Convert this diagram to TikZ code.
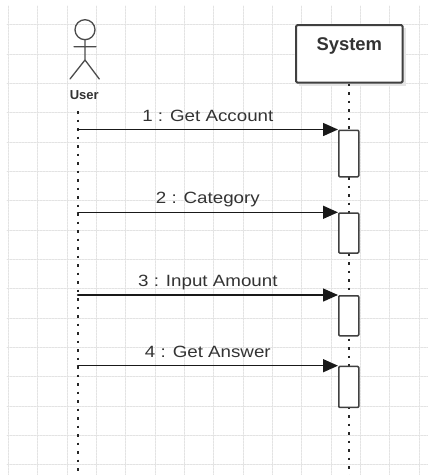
\documentclass[tikz,border=0pt]{standalone}
\usepackage{fontspec}
\setmainfont{Liberation Sans}
\newfontfamily\msgfont{Liberation Sans}[FakeStretch=1.15]
\usetikzlibrary{positioning,arrows.meta}
\begin{document}
\begin{tikzpicture}[x=1pt, y=-1pt, line join=round, line cap=round]
	\tikzset{every node/.style={text=black!80}}
	\tikzset{grid/.style={black!11, line width=0.8pt, dash pattern=on 2pt off 1pt}}
	\tikzset{life/.style={black!85, line width=2pt, line cap=butt, dash pattern=on 2.5pt off 6pt}}
	\tikzset{act/.style={draw=black!75, fill=white, line width=1.5pt, minimum width=20pt, anchor=north west, inner sep=0pt, rounded corners=1pt}}
	\tikzset{msg/.style={-{Triangle[length=15pt,width=13pt]}, black!90, line width=1.5pt}}
	\tikzset{lab/.style={midway, anchor=base, yshift=8.5pt, font=\msgfont\fontsize{16.3}{18}\selectfont}}
	\def\xmin{0}\def\xmax{428}\def\ymin{0}\def\ymax{475}
	\useasboundingbox[fill=white] (\xmin,\ymin) rectangle (\xmax,\ymax);
	%grid
	\foreach \x in {8.3,37.63,...,428} \draw[grid] (\x,6)--(\x,\ymax);
	\foreach \y in {24.7,54.03,...,475} \draw[grid] (7,\y)--(\xmax,\y);
	%actor
	\draw[black!70, line width=1.3pt] (85,29.7) circle (10) (85,39.7)--(85,60) (74,46.7)--(96,46.7) (70,79)--(85,60)--(99.3,79);
	\node[anchor=base, font=\bfseries\fontsize{13}{15}\selectfont] (user) at (84.3,99.3) {User};
	\coordinate (userTop) at (77.7,111);
	\coordinate (userBot) at (77.7,\ymax);
	%system
	\fill[black!10] (299,28) rectangle (405.7,85.7);
	\node[draw=black!75, fill=white, line width=2pt, rounded corners=1.5pt, minimum width=106.7pt, minimum height=57.7pt, anchor=north west, inner sep=0pt] (sys) at (295,24) {};
	\node[anchor=base, font=\bfseries\fontsize{18.4}{20}\selectfont] (sysName) at ([yshift=-26pt]sys.north) {System};
	%lifelines
	\draw[life] (userTop) -- (userBot);
	\draw[life] (sys.south) -- (sys.south |- userBot);
	%activations
	\node[act, minimum height=46.5pt] (act1) at (338,129.5) {};
	\node[act, minimum height=40pt] (act2) at (338,212.3) {};
	\node[act, minimum height=40pt] (act3) at (338,295) {};
	\node[act, minimum height=41pt] (act4) at (338,365.7) {};
	%messages
	\draw[msg] (userTop |- act1.north west) -- (act1.north west) node[lab]{1 : Get Account};
	\draw[msg] (userTop |- act2.north west) -- (act2.north west) node[lab]{2 : Category};
	\draw[msg] (userTop |- act3.north west) -- (act3.north west) node[lab]{3 : Input Amount};
	\draw[msg] (userTop |- act4.north west) -- (act4.north west) node[lab]{4 : Get Answer};
\end{tikzpicture}
\end{document}
